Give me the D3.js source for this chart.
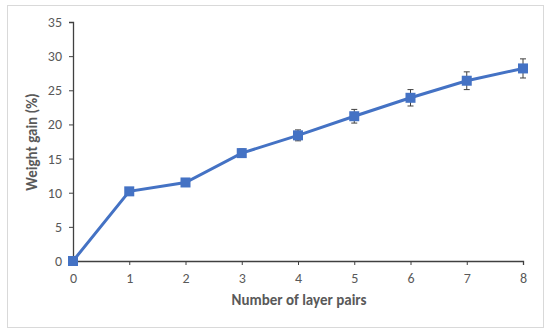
<!DOCTYPE html>
<html><head><meta charset="utf-8">
<script src="https://cdn.jsdelivr.net/npm/d3@7"></script>
<style>body{margin:0;background:#fff}svg{display:block}</style>
</head><body>
<script>
const layerPairs = [0, 1, 2, 3, 4, 5, 6, 7, 8];
const weightGain = [0, 10.2, 11.5, 15.8, 18.4, 21.2, 23.9, 26.4, 28.2];
const errors = [0, 0.3, 0.3, 0.6, 0.8, 1.0, 1.2, 1.3, 1.4];
const yTicks = [0, 5, 10, 15, 20, 25, 30, 35];
const xTicks = [0, 1, 2, 3, 4, 5, 6, 7, 8];

const W = 550, H = 333;
const svg = d3.select("body").append("svg").attr("width", W).attr("height", H);
svg.append("rect").attr("x", 7.5).attr("y", 5.5).attr("width", 536).attr("height", 322)
  .attr("fill", "#fff").attr("stroke", "#d9d9d9").attr("stroke-width", 1);

const x = d3.scaleLinear().domain([0, 8]).range([73, 523]);
const y = d3.scaleLinear().domain([0, 35]).range([261, 22]);
const font = "Carlito, 'Open Sans', 'Liberation Sans', sans-serif";

const xAxis = svg.append("g").attr("transform", "translate(0,261)")
  .call(d3.axisBottom(x).tickValues(xTicks).tickSize(4).tickPadding(8).tickFormat(d3.format("d")));
const yAxis = svg.append("g").attr("transform", "translate(73,0)")
  .call(d3.axisLeft(y).tickValues(yTicks).tickSize(4).tickPadding(7).tickFormat(d3.format("d")));
[xAxis, yAxis].forEach(g => {
  g.select(".domain").attr("stroke", "#404040").attr("stroke-width", 1.3);
  g.selectAll(".tick line").attr("stroke", "#404040");
  g.selectAll(".tick text").attr("fill", "#595959").style("font-family", font).style("font-size", "14px");
});

const data = layerPairs.map((d, i) => ({x: d, y: weightGain[i], e: errors[i]}));

svg.append("path").datum(data)
  .attr("fill", "none").attr("stroke", "#4472C4").attr("stroke-width", 3)
  .attr("d", d3.line().x(d => x(d.x)).y(d => y(d.y)));

const eb = svg.append("g").attr("stroke", "#404040").attr("stroke-width", 1);
data.filter(d => d.e > 0).forEach(d => {
  eb.append("line").attr("x1", x(d.x)).attr("x2", x(d.x)).attr("y1", y(d.y - d.e)).attr("y2", y(d.y + d.e));
  [d.y - d.e, d.y + d.e].forEach(v => {
    eb.append("line").attr("x1", x(d.x) - 3).attr("x2", x(d.x) + 3).attr("y1", y(v)).attr("y2", y(v));
  });
});

svg.append("g").selectAll("rect").data(data).join("rect")
  .attr("x", d => x(d.x) - 5).attr("y", d => y(d.y) - 5)
  .attr("width", 10).attr("height", 10).attr("fill", "#4472C4");

svg.append("text").attr("x", 299).attr("y", 305).attr("text-anchor", "middle")
  .style("font-family", font).style("font-size", "15px").style("font-weight", "bold")
  .attr("fill", "#595959").text("Number of layer pairs");
svg.append("text").attr("transform", "translate(37,142) rotate(-90)").attr("text-anchor", "middle")
  .style("font-family", font).style("font-size", "15px").style("font-weight", "bold")
  .attr("fill", "#595959").text("Weight gain (%)");
</script>
</body></html>
